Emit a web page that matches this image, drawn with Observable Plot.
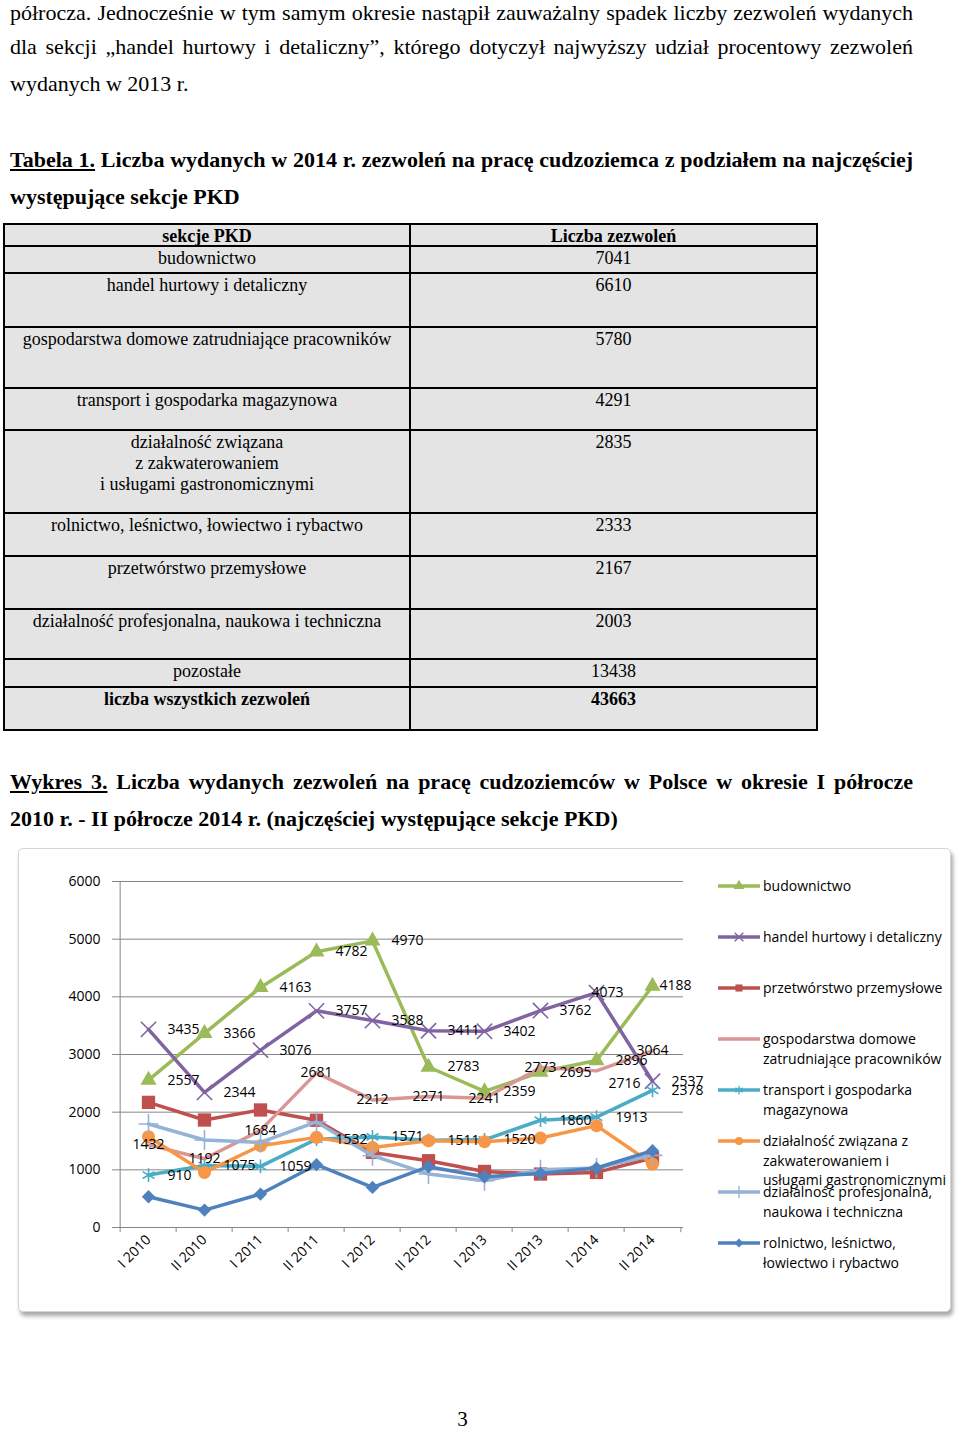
<!DOCTYPE html>
<html><head><meta charset="utf-8">
<script src="https://cdn.jsdelivr.net/npm/d3@7"></script>
<script src="https://cdn.jsdelivr.net/npm/@observablehq/plot@0.6"></script>
<style>
body{margin:0;background:#fff;}
#page{position:relative;width:960px;height:1430px;overflow:hidden;font-family:"Liberation Serif","Times New Roman",serif;color:#000;background:#fff;}
.line{position:absolute;left:10px;width:903px;height:37px;line-height:37px;font-size:22px;white-space:nowrap;}
.j{text-align:justify;text-align-last:justify;}
.b{font-weight:bold;}
#tbl{position:absolute;background:#000;}
.cell{position:absolute;background:#e4e4e4;text-align:center;font-size:18px;line-height:21px;padding-top:1px;box-sizing:border-box;white-space:pre-line;}
#frame{position:absolute;left:18px;top:848px;width:933px;height:464px;border:1px solid #d4d4d4;border-radius:5px;box-shadow:2px 4px 4px rgba(0,0,0,0.35);background:#fff;box-sizing:border-box;}
#chart{position:absolute;left:18px;top:848px;}
.leg{position:absolute;font-family:"Open Sans",sans-serif;font-size:14px;line-height:19.5px;white-space:pre;color:#000;}
.sw{position:absolute;}
#pnum{position:absolute;left:0;width:925px;top:1409px;text-align:center;font-size:21px;line-height:21px;}
</style></head>
<body><div id="page">
<div class="line j" style="top:2px;height:22px;line-height:22px">półrocza. Jednocześnie w tym samym okresie nastąpił zauważalny spadek liczby zezwoleń  wydanych</div>
<div class="line j" style="top:28px">dla sekcji „handel hurtowy i detaliczny”, którego dotyczył najwyższy udział procentowy zezwoleń</div>
<div class="line" style="top:65px">wydanych w 2013 r.</div>
<div class="line j b" style="top:141px"><u>Tabela 1.</u> Liczba wydanych w 2014 r. zezwoleń na pracę cudzoziemca z podziałem na najczęściej</div>
<div class="line b" style="top:178px">występujące sekcje PKD</div>
<div id="tbl"></div>
<div class="line j b" style="top:763px"><u>Wykres 3.</u> Liczba wydanych zezwoleń na pracę cudzoziemców w Polsce w okresie I półrocze</div>
<div class="line b" style="top:800px">2010 r. - II półrocze 2014 r. (najczęściej występujące sekcje PKD)</div>
<div id="frame"></div>
<div id="chart"></div>
<div id="legend"></div>
<div id="pnum">3</div>
</div>
<script>
// ---------- Table data ----------
const tableHeader = ["sekcje PKD", "Liczba zezwoleń"];
const tableSections = [
  "budownictwo",
  "handel hurtowy i detaliczny",
  "gospodarstwa domowe zatrudniające pracowników",
  "transport i gospodarka magazynowa",
  "działalność związana\nz zakwaterowaniem\ni usługami gastronomicznymi",
  "rolnictwo, leśnictwo, łowiectwo i rybactwo",
  "przetwórstwo przemysłowe",
  "działalność profesjonalna, naukowa i techniczna",
  "pozostałe"
];
const tableCounts = [7041, 6610, 5780, 4291, 2835, 2333, 2167, 2003, 13438];
const tableTotalLabel = "liczba wszystkich zezwoleń";
const tableTotal = 43663;

// ---------- Chart data ----------
const periods = ["I 2010","II 2010","I 2011","II 2011","I 2012","II 2012","I 2013","II 2013","I 2014","II 2014"];
const budownictwo    = [2557, 3366, 4163, 4782, 4970, 2783, 2359, 2695, 2896, 4188];
const handel         = [3435, 2344, 3076, 3757, 3588, 3411, 3402, 3762, 4073, 2537];
const przetworstwo   = [2170, 1864, 2038, 1860, 1302, 1158, 972, 927, 955, 1205];
const gospodarstwa   = [1432, 1192, 1684, 2681, 2212, 2271, 2241, 2773, 2716, 3064];
const transport      = [910, 1075, 1059, 1532, 1571, 1511, 1520, 1860, 1913, 2378];
const zakwaterowanie = [1575, 955, 1418, 1563, 1389, 1505, 1488, 1552, 1766, 1100];
const profesjonalna  = [1795, 1517, 1476, 1830, 1245, 927, 811, 1000, 1030, 1250];
const rolnictwo      = [533, 302, 580, 1089, 695, 1054, 880, 938, 1031, 1332];
const seriesNames = [
  "budownictwo",
  "handel hurtowy i detaliczny",
  "przetwórstwo przemysłowe",
  "gospodarstwa domowe\nzatrudniające pracowników",
  "transport i gospodarka\nmagazynowa",
  "działalność związana z\nzakwaterowaniem i\nusługami gastronomicznymi",
  "działalność profesjonalna,\nnaukowa i techniczna",
  "rolnictwo, leśnictwo,\nłowiectwo i rybactwo"
];
const yTicks = [0, 1000, 2000, 3000, 4000, 5000, 6000];

// ---------- Table ----------
(function(){
  const yb = [224,246,273,327,388,430,513,556,609,659,687,730];
  const xb = [4,410,817];
  const tbl = document.getElementById("tbl");
  tbl.style.left = (xb[0]-1)+"px"; tbl.style.top = (yb[0]-1)+"px";
  tbl.style.width = (xb[2]-xb[0]+2)+"px"; tbl.style.height = (yb[yb.length-1]-yb[0]+2)+"px";
  const rowsT = [[tableHeader[0], tableHeader[1], true]]
    .concat(tableSections.map((s,i)=>[s, String(tableCounts[i]), false]))
    .concat([[tableTotalLabel, String(tableTotal), true]]);
  rowsT.forEach((r, ri) => {
    for (let c = 0; c < 2; c++) {
      const d = document.createElement("div");
      d.className = "cell";
      d.style.left = (xb[c]-xb[0]+2)+"px";
      d.style.width = (xb[c+1]-xb[c]-2)+"px";
      d.style.top = (yb[ri]-yb[0]+2)+"px";
      d.style.height = (yb[ri+1]-yb[ri]-2)+"px";
      if (r[2]) d.style.fontWeight = "bold";
      d.textContent = r[c];
      tbl.appendChild(d);
    }
  });
})();

// ---------- Chart ----------
const series = [
  {name: seriesNames[0], values: budownictwo,    color: "#9BBB59", symbol: "triangle", filled: true,  r: 6,   label: "right"},
  {name: seriesNames[1], values: handel,         color: "#8064A2", symbol: "times",    filled: false, r: 7,   label: "right"},
  {name: seriesNames[2], values: przetworstwo,   color: "#C0504D", symbol: "square",   filled: true,  r: 7.5, label: null},
  {name: seriesNames[3], values: gospodarstwa,   color: "#D99694", symbol: null,       filled: true,  r: 0,   label: "center"},
  {name: seriesNames[4], values: transport,      color: "#4BACC6", symbol: "asterisk", filled: false, r: 6.5, label: "right"},
  {name: seriesNames[5], values: zakwaterowanie, color: "#F79646", symbol: "circle",   filled: true,  r: 6.5, label: null},
  {name: seriesNames[6], values: profesjonalna,  color: "#95B3D7", symbol: "plus",     filled: false, r: 6.5, label: null},
  {name: seriesNames[7], values: rolnictwo,      color: "#4F81BD", symbol: "diamond2", filled: true,  r: 6,   label: null}
];

const W = 700, H = 464, ML = 98, MR = 35, MT = 33, MB = 85;
const step = (W - ML - MR) / periods.length;
const grid = "#868686";

const rows = [];
series.forEach((s, si) => s.values.forEach((v, i) => rows.push({si, series: s.name, period: periods[i], value: v})));

// labels with a manual nudge in the reference
const special = {"1|I 2014": {anchor: "middle", dx: 11, dy: 0}, "0|II 2014": {anchor: "start", dx: 7, dy: 0}, "3|I 2014": {anchor: "middle", dx: 28, dy: 13}};
const isSpecial = d => special[d.si + "|" + d.period] !== undefined;

const marks = [
  Plot.gridY({ticks: yTicks.slice(1), stroke: grid, strokeOpacity: 1}),
  Plot.ruleY([0], {stroke: grid}),
  Plot.ruleX([periods[0]], {dx: -step/2, stroke: grid}),
  Plot.ruleX(periods, {x: d => d, dx: -step/2, y1: 0, y2: -90, stroke: grid}),
  Plot.ruleX([periods[periods.length-1]], {x: d => d, dx: step/2, y1: 0, y2: -90, stroke: grid}),
  Plot.axisY({ticks: yTicks, tickSize: 4, tickPadding: 12, tickFormat: d => String(d), stroke: grid, fill: "#000", fontSize: 14, label: null}),
  Plot.axisX({tickRotate: -45, tickSize: 0, tickPadding: 10, fill: "#000", fontSize: 14, label: null})
];

series.forEach((s, si) => {
  const data = rows.filter(d => d.si === si);
  marks.push(Plot.line(data, {x: "period", y: "value", stroke: s.color, strokeWidth: 3.5, strokeLinejoin: "round", strokeLinecap: "round"}));
  if (s.symbol) {
    marks.push(Plot.dot(data, s.filled
      ? {x: "period", y: "value", symbol: s.symbol, r: s.r, fill: s.color, stroke: "none"}
      : {x: "period", y: "value", symbol: s.symbol, r: s.r, fill: "none", stroke: s.color, strokeWidth: 1.6}));
  }
});

const labelFont = {fontSize: 14, fill: "#000"};
series.forEach((s, si) => {
  if (!s.label) return;
  const data = rows.filter(d => d.si === si && !isSpecial(d));
  if (s.label === "right") {
    marks.push(Plot.text(data, {x: "period", y: "value", text: d => String(d.value), textAnchor: "start", dx: 19, ...labelFont}));
  } else {
    marks.push(Plot.text(data, {x: "period", y: "value", text: d => String(d.value), textAnchor: "middle", ...labelFont}));
  }
});
rows.filter(isSpecial).forEach(d => {
  const o = special[d.si + "|" + d.period];
  marks.push(Plot.text([d], {x: "period", y: "value", text: d => String(d.value), textAnchor: o.anchor, dx: o.dx, dy: o.dy, ...labelFont}));
});

const plot = Plot.plot({
  width: W, height: H,
  marginLeft: ML, marginRight: MR, marginTop: MT, marginBottom: MB,
  style: {fontFamily: "Open Sans", fontSize: "14px", background: "transparent", overflow: "visible"},
  x: {type: "point", domain: periods, padding: 0.5, label: null},
  y: {domain: [0, 6000], label: null},
  marks
});
document.getElementById("chart").appendChild(plot);

// ---------- Legend ----------
(function(){
  const leg = document.getElementById("legend");
  const symMap = {triangle: d3.symbolTriangle, times: d3.symbolTimes, square: d3.symbolSquare, asterisk: d3.symbolAsterisk, circle: d3.symbolCircle, plus: d3.symbolPlus, diamond2: d3.symbolDiamond2};
  series.forEach((s, i) => {
    const cy = 886 + i * 51;
    const svg = d3.create("svg").attr("class", "sw").attr("width", 46).attr("height", 20)
      .style("left", "716px").style("top", (cy - 10) + "px");
    svg.append("line").attr("x1", 2).attr("x2", 44).attr("y1", 10).attr("y2", 10)
      .attr("stroke", s.color).attr("stroke-width", 3.5);
    if (s.symbol) {
      const p = svg.append("path").attr("transform", "translate(23,10)")
        .attr("d", d3.symbol(symMap[s.symbol], Math.PI * 16)());
      if (s.filled) p.attr("fill", s.color); else p.attr("fill", "none").attr("stroke", s.color).attr("stroke-width", 1.4);
    }
    leg.appendChild(svg.node());
    const t = document.createElement("div");
    t.className = "leg";
    t.style.left = "763px";
    t.style.top = (cy - 10) + "px";
    t.textContent = s.name;
    leg.appendChild(t);
  });
})();
</script>
</body></html>
